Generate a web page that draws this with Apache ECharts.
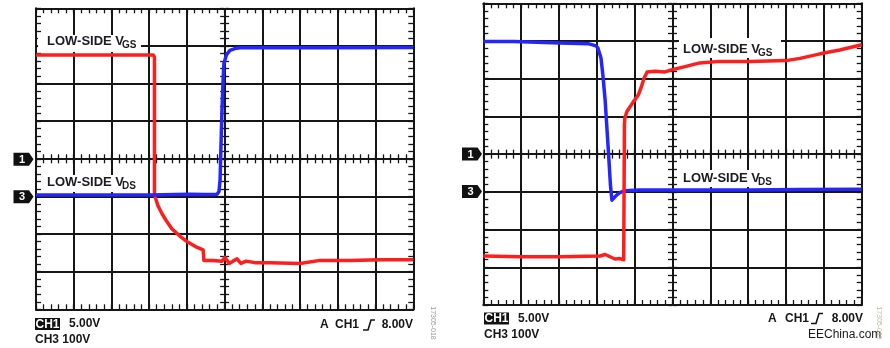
<!DOCTYPE html>
<html>
<head>
<meta charset="utf-8">
<script src="https://cdn.jsdelivr.net/npm/echarts@6/dist/echarts.min.js"></script>
<style>
  html, body { margin: 0; padding: 0; background: #ffffff; }
  #scope { width: 890px; height: 348px; }
</style>
</head>
<body>
<div id="scope"></div>
<script>
// Two scope captures of a low-side switch: turn-off (left) and turn-on (right).
// Time is in screen divisions (10 across); voltages are in volts.

// Channel settings: CH1 = gate drive, CH3 = drain
const ch1VoltsPerDiv = 5;
const ch1GroundDiv = 0;
const ch3VoltsPerDiv = 100;
const ch3GroundDiv = -1;

// Turn-off capture
const offVgsTime = [0, 3.11, 3.14, 3.14, 3.18, 3.23, 3.34, 3.45, 3.60, 3.82, 4.03, 4.24, 4.43, 4.45, 4.69, 4.93, 5.01, 5.12, 5.22, 5.33, 5.43, 5.57, 5.80, 6.20, 7.00, 7.53, 8.32, 9.12, 10.0];
const offVgsVolts = [13.8, 13.8, 13.5, -4.75, -5.4, -6.2, -7.3, -8.2, -9.3, -10.3, -11.1, -11.7, -12.1, -13.5, -13.5, -13.6, -13.1, -13.9, -13.6, -13.3, -13.9, -13.6, -13.8, -13.8, -13.9, -13.5, -13.5, -13.4, -13.4];
const offVdsTime = [0, 3.02, 3.68, 4.08, 4.48, 4.80, 4.85, 4.88, 4.90, 4.93, 4.96, 4.98, 5.05, 5.14, 5.27, 5.41, 7.5, 10];
const offVdsVolts = [4, 4, 5, 6, 5, 6, 13, 45, 125, 231, 311, 353, 377, 388, 393, 395, 395, 396];

// Turn-on capture
const onVdsTime = [0, 0.81, 0.86, 2.03, 2.77, 2.82, 2.98, 3.03, 3.11, 3.16, 3.22, 3.27, 3.32, 3.36, 3.40, 3.45, 3.53, 3.61, 3.74, 4.14, 5.73, 7.05, 8.37, 10];
const onVdsVolts = [399, 399, 395, 395, 393, 389, 387, 381, 355, 310, 243, 164, 84, 18, -22, -19, -8, -2, 3, 5, 5, 5, 6, 7];
const onVgsTime = [0, 0.97, 2.03, 3.08, 3.22, 3.35, 3.48, 3.61, 3.71, 3.73, 3.73, 3.74, 3.80, 3.96, 4.09, 4.17, 4.25, 4.33, 4.54, 4.80, 4.99, 5.33, 5.72, 6.25, 7.05, 8.0, 8.37, 8.9, 9.42, 10];
const onVgsVolts = [-13.5, -13.6, -13.6, -13.5, -13.3, -13.6, -13.9, -13.85, -14.0, -13.8, 3.9, 4.8, 5.7, 6.9, 7.8, 8.8, 10.1, 10.9, 11.0, 10.9, 11.2, 11.6, 12.1, 12.3, 12.3, 12.4, 12.7, 13.3, 13.8, 14.5];

// Screen graticule
const xDivisions = [0, 10];
const yDivisions = [-4, 4];

const ink = '#161616';
const red = '#ff1e1e';
const blue = '#2525ff';
const font = '"Liberation Sans", Arial, sans-serif';

function toTrace(times, volts, voltsPerDiv, groundDiv) {
  return times.map((t, i) => [t, volts[i] / voltsPerDiv + groundDiv]);
}

const panels = [
  { left: 36, top: 8.3, width: 377.3, height: 301 },
  { left: 483.3, top: 3.3, width: 378.4, height: 301.7 }
];

const grids = [];
const xAxes = [];
const yAxes = [];

function frameX(gridIndex, position, split) {
  return {
    gridIndex, type: 'value', position, min: xDivisions[0], max: xDivisions[1], interval: 1,
    axisLine: { show: true, onZero: false, lineStyle: { color: ink, width: 2 } },
    axisTick: { show: true, inside: true, length: 5, lineStyle: { color: ink, width: 1.3 } },
    minorTick: { show: true, splitNumber: 5, length: 5, lineStyle: { color: ink, width: 1.3 } },
    axisLabel: { show: false },
    splitLine: { show: split, lineStyle: { color: ink, width: 2 } }
  };
}
function frameY(gridIndex, position, split) {
  return {
    gridIndex, type: 'value', position, min: yDivisions[0], max: yDivisions[1], interval: 1,
    axisLine: { show: true, onZero: false, lineStyle: { color: ink, width: 2 } },
    axisTick: { show: true, inside: true, length: 5, lineStyle: { color: ink, width: 1.3 } },
    minorTick: { show: true, splitNumber: 5, length: 5, lineStyle: { color: ink, width: 1.3 } },
    axisLabel: { show: false },
    splitLine: { show: split, lineStyle: { color: ink, width: 2 } }
  };
}
function crossTicks(gridIndex, kind, position) {
  const base = {
    gridIndex, type: 'value', position,
    axisLine: { show: false, onZero: false },
    axisTick: { show: true, inside: false, length: 4, lineStyle: { color: ink, width: 1.3 } },
    minorTick: { show: true, splitNumber: 5, length: 4, lineStyle: { color: ink, width: 1.3 } },
    axisLabel: { show: false },
    splitLine: { show: false }
  };
  if (kind === 'x') { base.min = xDivisions[0]; base.max = xDivisions[1]; }
  else { base.min = yDivisions[0]; base.max = yDivisions[1]; }
  base.interval = 1;
  return base;
}
function hiddenAxis(gridIndex) {
  return { gridIndex, type: 'value', show: false, min: 0, max: 1, axisLine: { onZero: false } };
}

// main plotting grids 0 and 1
panels.forEach((p, i) => {
  grids.push({ left: p.left, top: p.top, width: p.width, height: p.height });
  xAxes.push(frameX(i, 'bottom', true));
  xAxes.push(frameX(i, 'top', false));
  yAxes.push(frameY(i, 'left', true));
  yAxes.push(frameY(i, 'right', false));
});
// centre cross tick strips
panels.forEach((p) => {
  const cy = p.top + p.height / 2;
  const cx = p.left + p.width / 2;
  const h = grids.length;
  grids.push({ left: p.left, top: cy - 0.5, width: p.width, height: 1 });
  xAxes.push(crossTicks(h, 'x', 'bottom'));
  xAxes.push(crossTicks(h, 'x', 'top'));
  yAxes.push(hiddenAxis(h));
  const v = grids.length;
  grids.push({ left: cx - 0.5, top: p.top, width: 1, height: p.height });
  yAxes.push(crossTicks(v, 'y', 'left'));
  yAxes.push(crossTicks(v, 'y', 'right'));
  xAxes.push(hiddenAxis(v));
});

function trace(data, color, panel) {
  return {
    type: 'line', xAxisIndex: panel * 2, yAxisIndex: panel * 2,
    data, showSymbol: false, symbol: 'none', animation: false,
    lineStyle: { color, width: 3.5, join: 'round' }, z: 5
  };
}

const series = [
  trace(toTrace(offVgsTime, offVgsVolts, ch1VoltsPerDiv, ch1GroundDiv), red, 0),
  trace(toTrace(offVdsTime, offVdsVolts, ch3VoltsPerDiv, ch3GroundDiv), blue, 0),
  trace(toTrace(onVdsTime, onVdsVolts, ch3VoltsPerDiv, ch3GroundDiv), blue, 1),
  trace(toTrace(onVgsTime, onVgsVolts, ch1VoltsPerDiv, ch1GroundDiv), red, 1)
];

// ---- annotations ----
const graphic = [];

function traceLabel(x, y, sub, box) {
  graphic.push({ type: 'rect', z: 50, shape: box, style: { fill: '#ffffff' } });
  graphic.push({ type: 'text', z: 51, x, y, style: {
    text: 'LOW-SIDE V', fill: '#1b1b24', font: 'bold 13px ' + font, align: 'left', verticalAlign: 'middle' } });
  graphic.push({ type: 'text', z: 51, x: x + 75, y: y + 3.5, style: {
    text: sub, fill: '#1b1b24', font: 'bold 10px ' + font, align: 'left', verticalAlign: 'middle' } });
}
traceLabel(47, 41.5, 'GS', { x: 38, y: 35, width: 103, height: 17 });
traceLabel(47, 182.5, 'DS', { x: 44, y: 175, width: 97, height: 17 });
traceLabel(683, 49.5, 'GS', { x: 679, y: 38, width: 102, height: 20 });
traceLabel(683, 178.5, 'DS', { x: 679, y: 170, width: 98, height: 17 });

function groundMarker(xRight, y, label) {
  graphic.push({ type: 'polygon', z: 50, shape: { points: [
    [xRight - 20, y - 6.5], [xRight - 4.5, y - 6.5], [xRight, y], [xRight - 4.5, y + 6.5], [xRight - 20, y + 6.5]] },
    style: { fill: '#111111' } });
  graphic.push({ type: 'text', z: 51, x: xRight - 11.5, y: y + 0.5, style: {
    text: label, fill: '#ffffff', font: 'bold 11px ' + font, align: 'center', verticalAlign: 'middle' } });
}
groundMarker(33.5, 159.3, '1');
groundMarker(33.5, 196.8, '3');
groundMarker(482, 154.1, '1');
groundMarker(482, 191.6, '3');

function txt(x, y, s, size, weight, color, align) {
  graphic.push({ type: 'text', z: 51, x, y, style: {
    text: s, fill: color || '#161616', font: (weight || 'bold') + ' ' + size + 'px ' + font,
    align: align || 'left', verticalAlign: 'middle' } });
}

function scaleReadout(x, y1, y2) {
  graphic.push({ type: 'rect', z: 50, shape: { x: x, y: y1 - 6, width: 25, height: 12 }, style: { fill: '#111111' } });
  txt(x + 12.5, y1 + 0.5, 'CH1', 12, 'bold', '#ffffff', 'center');
  txt(x + 34, y1, '5.00V', 12);
  txt(x, y2, 'CH3 100V', 12);
}
scaleReadout(35, 324, 340);
scaleReadout(484, 318.5, 335);

function triggerReadout(xA, xCh, xGlyph, xRight, y) {
  txt(xA, y, 'A', 12);
  txt(xCh, y, 'CH1', 12);
  graphic.push({ type: 'polyline', z: 51, shape: { points: [
    [xGlyph, y + 5], [xGlyph + 5, y + 5], [xGlyph + 8, y - 5], [xGlyph + 12, y - 5]] },
    style: { stroke: '#161616', lineWidth: 1.6, fill: null } });
  txt(xRight, y, '8.00V', 12, 'bold', '#161616', 'right');
}
triggerReadout(320, 335, 363, 413, 325);
triggerReadout(768, 785, 811, 863, 318.5);

txt(808, 335, 'EEChina.com', 12, 'normal', '#1a1a1a');

graphic.push({ type: 'text', z: 51, x: 433, y: 323, rotation: -Math.PI / 2, style: {
  text: '17305-018', fill: '#9a9a9a', font: '7px ' + font, align: 'center', verticalAlign: 'middle' } });
graphic.push({ type: 'text', z: 51, x: 879, y: 323, rotation: -Math.PI / 2, style: {
  text: '17305-019', fill: '#c4b89a', font: '7px ' + font, align: 'center', verticalAlign: 'middle' } });

const chart = echarts.init(document.getElementById('scope'), null, { renderer: 'canvas' });
chart.setOption({
  animation: false,
  backgroundColor: '#ffffff',
  grid: grids,
  xAxis: xAxes,
  yAxis: yAxes,
  series,
  graphic
});
</script>
</body>
</html>
